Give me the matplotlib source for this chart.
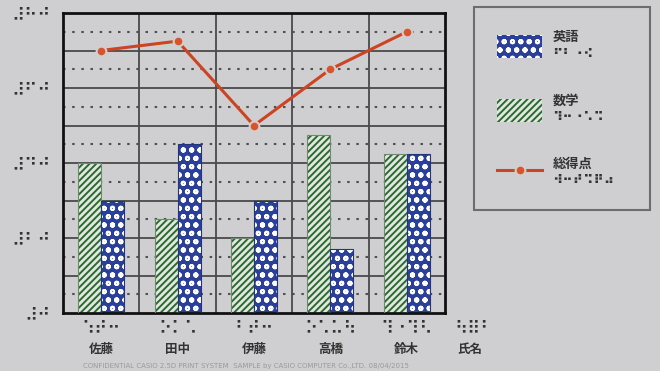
import matplotlib.pyplot as plt
from matplotlib.patches import Patch
from matplotlib.lines import Line2D

# データ
names = ['佐藤', '田中', '伊藤', '高橋', '鈴木']
names_braille = ['⠱⠞⠒', '⠕⠅⠡', '⠃⠞⠒', '⠕⠡⠥⠳', '⠹⠐⠹⠣']
math_scores = [40, 25, 20, 47.5, 42.5]
english_scores = [30, 45, 30, 17, 42.5]
total_points = [70, 72.5, 50, 65, 75]
y_ticks = [0, 20, 40, 60, 80]
y_braille = ['⠼⠚', '⠼⠃⠚', '⠼⠙⠚', '⠼⠋⠚', '⠼⠓⠚']

bg = '#cfcfd2'
plt.rcParams['font.family'] = ['Noto Sans CJK JP', 'DejaVu Sans']
plt.rcParams['hatch.linewidth'] = 1.4

fig = plt.figure(figsize=(6.6, 3.71), dpi=100, facecolor=bg)
ax = fig.add_axes([63 / 660, 1 - 313 / 371, 382 / 660, 300 / 371])
ax.set_facecolor(bg)

x = list(range(len(names)))
w = 0.3

# 格子線
for v in range(5, 80, 10):
    ax.axhline(v, color='#505050', lw=1.5, ls=(0, (1.2, 3.2)), zorder=1)
for v in range(10, 80, 10):
    ax.axhline(v, color='#4a4a4a', lw=1.3, zorder=1)
for v in [0.5, 1.5, 2.5, 3.5]:
    ax.axvline(v, color='#4a4a4a', lw=1.3, zorder=1)

# 棒グラフ (数学=緑の斜線, 英語=青の水玉)
xm = [i - w / 2 for i in x]
xe = [i + w / 2 for i in x]
ax.bar(xm, math_scores, w, color='#e2e8df', edgecolor='#2a6a30', hatch='/////', lw=0, zorder=2)
ax.bar(xm, math_scores, w, fill=False, edgecolor='#6d8a6d', lw=0.8, zorder=3)
ax.bar(xe, english_scores, w, color='#2a3f99', edgecolor='white', hatch='oo', lw=0, zorder=2)
ax.bar(xe, english_scores, w, fill=False, edgecolor='#23347a', lw=0.8, zorder=3)

# 総得点の折れ線
ax.plot(x, total_points, color='#cc4422', lw=2.2, marker='o', ms=7,
        mfc='#d9532b', mec=bg, mew=1.5, zorder=4)

ax.set_xlim(-0.5, 4.5)
ax.set_ylim(0, 80)
for s in ax.spines.values():
    s.set_linewidth(2)
    s.set_color('#111111')

ax.set_yticks(y_ticks)
ax.set_yticklabels(y_braille, fontsize=13, family='DejaVu Sans', color='#333333')
ax.tick_params(axis='y', length=0, pad=9)
ax.set_xticks([])

# 名前 (点字と漢字)
for i, b, n in zip(x, names_braille, names):
    ax.text(i, -4, b, ha='center', va='center', fontsize=13, family='DejaVu Sans',
            color='#333333', clip_on=False)
    ax.text(i, -9.6, n, ha='center', va='center', fontsize=9, fontweight='bold',
            color='#333333', clip_on=False)
ax.text(4.88, -4, '⠳⠿⠃', ha='center', va='center', fontsize=13, family='DejaVu Sans',
        color='#333333', clip_on=False)
ax.text(4.83, -9.6, '氏名', ha='center', va='center', fontsize=9, fontweight='bold',
        color='#333333', clip_on=False)

# 凡例
handles = [
    Patch(facecolor='#2a3f99', edgecolor='white', hatch='oo', lw=0),
    Patch(facecolor='#e2e8df', edgecolor='#2a6a30', hatch='/////', lw=0),
    Line2D([], [], color='#cc4422', lw=2.2, marker='o', ms=7, mfc='#d9532b', mec=bg, mew=1.5),
]
labels = ['英語\n⠋⠃⠐⠪', '数学\n⠹⠒⠐⠡⠩', '総得点\n⠺⠒⠞⠩⠟⠴']
leg = fig.legend(handles, labels, loc='upper left',
                 bbox_to_anchor=(474 / 660, 1 - 11 / 371, 176 / 660, 0.01),
                 mode='expand', frameon=True, fancybox=False, borderaxespad=0,
                 prop={'size': 9.5, 'weight': 'bold'},
                 handlelength=3.4, handleheight=2.3, labelspacing=2.5,
                 borderpad=1.75, handletextpad=0.8)
leg.get_frame().set_facecolor(bg)
leg.get_frame().set_edgecolor('#555555')
leg.get_frame().set_linewidth(1.5)
for t in leg.get_texts():
    t.set_color('#333333')

fig.text(83 / 660, 1 - 366 / 371,
         'CONFIDENTIAL CASIO 2.5D PRINT SYSTEM  SAMPLE by CASIO COMPUTER Co.,LTD. 08/04/2015',
         fontsize=5, color='#9a9a9c', va='center', family='DejaVu Sans')

plt.savefig('out.png', dpi=100, facecolor=bg)
